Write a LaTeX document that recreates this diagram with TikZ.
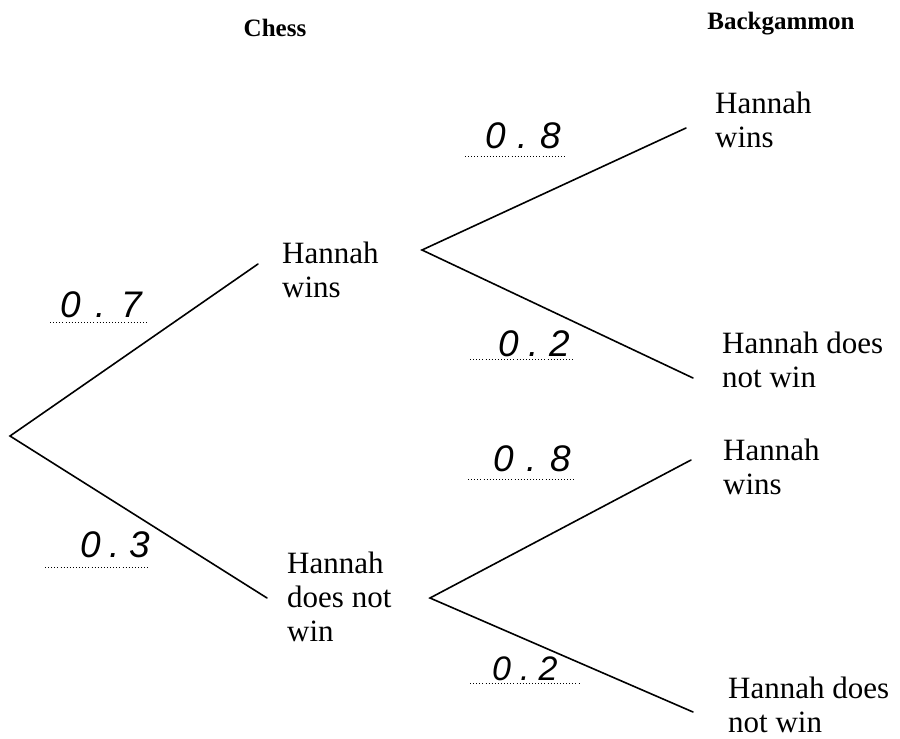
\documentclass[tikz,border=0pt]{standalone}
\usepackage{fontspec}
\setmainfont{Liberation Serif}
\newfontfamily\handfont{Liberation Sans}
\begin{document}
\tikzset{
 branch/.style={line width=1.6pt, line cap=round},
 lab/.style={anchor=north west, inner sep=0pt, align=left, font=\fontsize{31}{34}\selectfont},
 head/.style={anchor=base, inner sep=0pt, font=\bfseries\fontsize{25}{28}\selectfont},
 hand/.style={anchor=base west, inner sep=0pt, font=\handfont\itshape\fontsize{37}{40}\selectfont},
 smallhand/.style={hand, font=\handfont\itshape\fontsize{34}{37}\selectfont},
 dots/.style={line width=0.9pt, dash pattern=on 0.9pt off 2.2pt}
}
\begin{tikzpicture}[x=1pt,y=-1pt]
\useasboundingbox[fill=white] (0,0) rectangle (900,739);
% headings
\node[head] (chess) at (275,36) {Chess};
\node[head] (back) at (781,29) {Backgammon};
% junction points
\coordinate (r) at (10,436);
\coordinate (a) at (258,264);
\coordinate (b) at (267,598);
\coordinate (a0) at (422,250);
\coordinate (aw) at (686,128);
\coordinate (al) at (693,378);
\coordinate (b0) at (430,598);
\coordinate (bw) at (691,460);
\coordinate (bl) at (693,712);
\draw[branch] (a) -- (r) -- (b);
\draw[branch] (aw) -- (a0) -- (al);
\draw[branch] (bw) -- (b0) -- (bl);
% outcome texts
\node[lab] (tA) at (282,242) {Hannah\\wins};
\node[lab] (tB) at (287,552) {Hannah\\does not\\win};
\node[lab] (tC) at (715,92) {Hannah\\wins};
\node[lab] (tD) at (722,332) {Hannah does\\not win};
\node[lab] (tE) at (723,439) {Hannah\\wins};
\node[lab] (tF) at (728,677) {Hannah does\\not win};
% probabilities
\node[hand] (p1) at (60,317) {0\hspace{15pt}.\hspace{15pt}7};
\draw[dots] (50,322) -- (147,322);
\node[hand] (p2) at (485,148) {0\hspace{12pt}.\hspace{12pt}8};
\draw[dots] (465,156) -- (567,156);
\node[hand] (p3) at (498,356) {0\hspace{10pt}.\hspace{10pt}2};
\draw[dots] (470,359) -- (573,359);
\node[hand] (p4) at (80,557) {0\hspace{9pt}.\hspace{9pt}3};
\draw[dots] (45,567) -- (150,567);
\node[hand] (p5) at (493,471) {0\hspace{13pt}.\hspace{13pt}8};
\draw[dots] (468,479) -- (575,479);
\node[smallhand] (p6) at (492,680) {0\hspace{9pt}.\hspace{9pt}2};
\draw[dots] (470,683) -- (580,683);
\end{tikzpicture}
\end{document}
